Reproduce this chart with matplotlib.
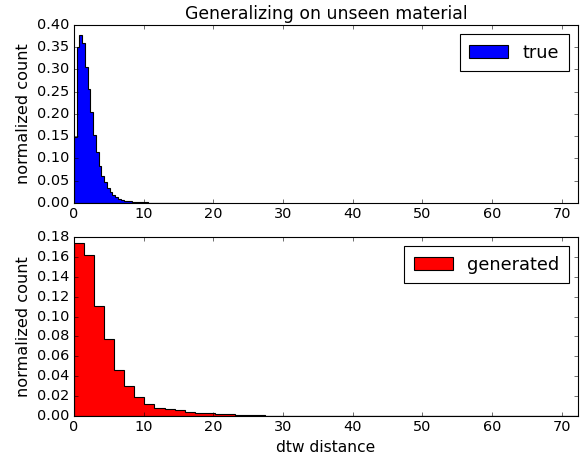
import numpy as np
import matplotlib
matplotlib.use("Agg")
import matplotlib.pyplot as plt

plt.style.use("classic")

title = "Generalizing on unseen material"
xlabel = "dtw distance"
ylabel = "normalized count"

# Histogram of true distances (normalized), 50 bins over [0, 19.8]
true_range = (0.0, 19.8)
true_heights = [
    0.149, 0.350, 0.377, 0.359, 0.305, 0.256, 0.205, 0.153, 0.115, 0.083,
    0.061, 0.046, 0.034, 0.024, 0.017, 0.012, 0.008, 0.0060, 0.0048, 0.0038,
    0.0030, 0.0024, 0.0019, 0.0015, 0.0012, 0.0010, 0.0008, 0.0007, 0.0006, 0.0005,
    0.0004, 0.0003, 0.0003, 0.00025, 0.0002, 0.0002, 0.00015, 0.00012, 0.0001, 0.0001,
    0.00008, 0.00006, 0.00005, 0.00004, 0.00003, 0.00003, 0.00002, 0.00002, 0.00001, 0.00001,
]

# Histogram of generated distances (normalized), 50 bins over [0, 72.3]
gen_range = (0.0, 72.3)
gen_heights = [
    0.1738, 0.162, 0.1107, 0.0775, 0.0463, 0.0302, 0.0195, 0.0117, 0.0081, 0.0070,
    0.0060, 0.0044, 0.0034, 0.0027, 0.0023, 0.0020, 0.0010, 0.0007, 0.0005, 0.0004,
    0.0003, 0.00025, 0.0002, 0.00018, 0.00015, 0.00012, 0.0001, 0.00008, 0.00006, 0.00005,
    0.00004, 0.00003, 0.00003, 0.00002, 0.00002, 0.00001, 0.00001, 0.00001, 0.00001, 0.0,
    0.0, 0.0, 0.0, 0.0, 0.0, 0.0, 0.0, 0.0, 0.0, 0.00001,
]

xticks = [0, 10, 20, 30, 40, 50, 60, 70]
top_yticks = [0.00, 0.05, 0.10, 0.15, 0.20, 0.25, 0.30, 0.35, 0.40]
bot_yticks = [0.00, 0.02, 0.04, 0.06, 0.08, 0.10, 0.12, 0.14, 0.16, 0.18]

fig = plt.figure(figsize=(586 / 80, 462 / 80), dpi=80, facecolor="white")
ax1 = fig.add_axes([0.126, 0.561, 0.860, 0.385])
ax2 = fig.add_axes([0.126, 0.0996, 0.860, 0.3874])


def draw(ax, rng, heights, color, label):
    edges = np.linspace(rng[0], rng[1], len(heights) + 1)
    centers = 0.5 * (edges[:-1] + edges[1:])
    ax.hist(centers, bins=edges, weights=heights, histtype="stepfilled",
            facecolor=color, edgecolor="black", label=label)


draw(ax1, true_range, true_heights, "blue", "true")
draw(ax2, gen_range, gen_heights, "red", "generated")

for ax, yt in ((ax1, top_yticks), (ax2, bot_yticks)):
    ax.set_xlim(0, gen_range[1])
    ax.set_xticks(xticks)
    ax.set_yticks(yt)
    ax.set_ylim(yt[0], yt[-1])
    ax.tick_params(labelsize=13)
    ax.set_ylabel(ylabel, fontsize=14.5, labelpad=5)
    ax.legend(loc="upper right", fontsize=16, handlelength=2.2,
              borderpad=0.55)

ax1.set_title(title, fontsize=15.5)
ax2.set_xlabel(xlabel, fontsize=14)

fig.savefig("out.png", dpi=80, facecolor="white")
